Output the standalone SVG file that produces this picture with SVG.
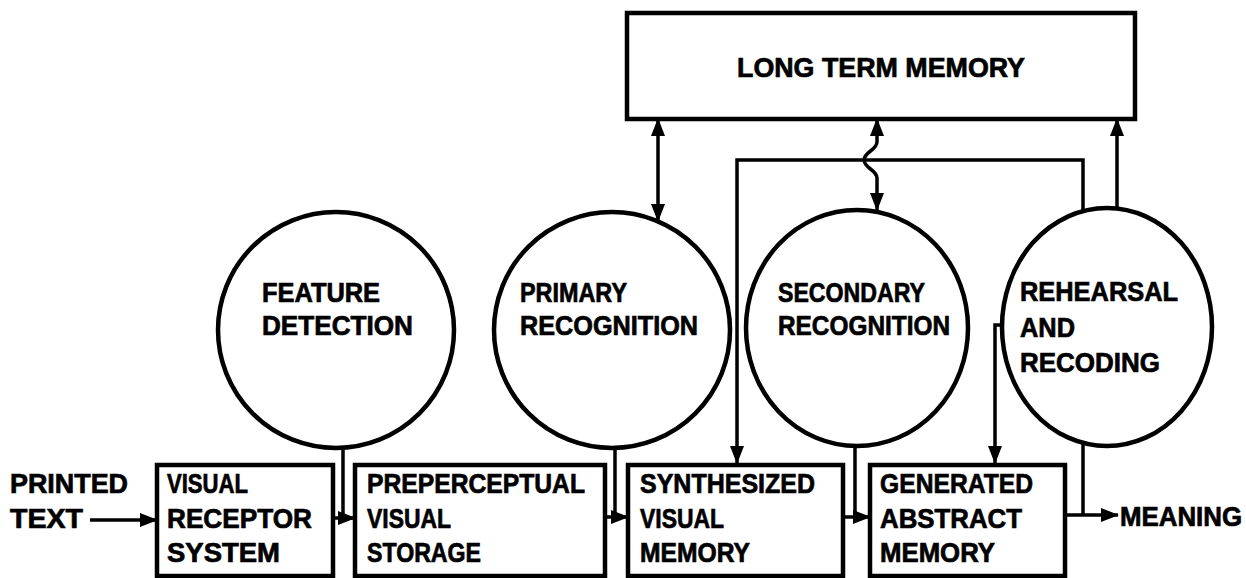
<svg xmlns="http://www.w3.org/2000/svg" width="1246" height="578" viewBox="0 0 1246 578">
<defs>
<style>
.box{fill:#fff;stroke:#000;stroke-width:4.5}
.circ{fill:#fff;stroke:#000;stroke-width:4.5}
.ln{fill:none;stroke:#000;stroke-width:3.5}
text{font-family:"Liberation Sans",Arial,Helvetica,sans-serif;font-weight:bold;font-size:27px;fill:#000;stroke:#000;stroke-width:0.7}
</style>
<marker id="ah" markerUnits="userSpaceOnUse" markerWidth="18" markerHeight="14" refX="17" refY="7" orient="auto">
<path d="M0,0 L18,7 L0,14 Z" fill="#000"/>
</marker>
<marker id="as" markerUnits="userSpaceOnUse" markerWidth="18" markerHeight="14" refX="1" refY="7" orient="auto">
<path d="M18,0 L0,7 L18,14 Z" fill="#000"/>
</marker>
</defs>
<rect width="1246" height="578" fill="#fff"/>

<g id="connectors">
<line class="ln" x1="90" y1="520" x2="157" y2="520" marker-end="url(#ah)"/>
<line class="ln" x1="333" y1="518" x2="355" y2="518" marker-end="url(#ah)"/>
<line class="ln" x1="343" y1="448" x2="343" y2="518"/>
<line class="ln" x1="605" y1="517" x2="628" y2="517" marker-end="url(#ah)"/>
<line class="ln" x1="615" y1="448" x2="615" y2="517"/>
<line class="ln" x1="843" y1="517" x2="870" y2="517" marker-end="url(#ah)"/>
<line class="ln" x1="855" y1="446" x2="855" y2="517"/>
<line class="ln" x1="1065" y1="515" x2="1118" y2="515" marker-end="url(#ah)"/>
<line class="ln" x1="1083" y1="443" x2="1083" y2="515"/>
<line class="ln" x1="658" y1="119" x2="658" y2="221" marker-start="url(#as)" marker-end="url(#ah)"/>
<path class="ln" d="M877,119 L877,142 C877,150 864,152 864,160 C864,168 877,170 877,178 L877,210" marker-start="url(#as)" marker-end="url(#ah)"/>
<path class="ln" d="M1083,212 L1083,160 L737,160 L737,463" marker-end="url(#ah)"/>
<path class="ln" d="M1003,325 L995,325 L995,463" marker-end="url(#ah)"/>
<line class="ln" x1="1117" y1="208" x2="1117" y2="119" marker-end="url(#ah)"/>
</g>

<g id="ltm">
<rect class="box" x="627" y="13" width="508" height="106"/>
<text x="737" y="77" textLength="288" lengthAdjust="spacingAndGlyphs">LONG TERM MEMORY</text>
</g>

<g id="feature-detection">
<circle class="circ" cx="336" cy="330" r="118"/>
<text x="262" y="302" textLength="118" lengthAdjust="spacingAndGlyphs">FEATURE</text>
<text x="262" y="335" textLength="151" lengthAdjust="spacingAndGlyphs">DETECTION</text>
</g>

<g id="primary-recognition">
<circle class="circ" cx="612" cy="330" r="118"/>
<text x="520" y="302" textLength="107" lengthAdjust="spacingAndGlyphs">PRIMARY</text>
<text x="520" y="335" textLength="178" lengthAdjust="spacingAndGlyphs">RECOGNITION</text>
</g>

<g id="secondary-recognition">
<ellipse class="circ" cx="857" cy="328" rx="111" ry="118"/>
<text x="778" y="302" textLength="147" lengthAdjust="spacingAndGlyphs">SECONDARY</text>
<text x="778" y="335" textLength="172" lengthAdjust="spacingAndGlyphs">RECOGNITION</text>
</g>

<g id="rehearsal-recoding">
<ellipse class="circ" cx="1107" cy="327" rx="105" ry="119"/>
<text x="1020" y="301" textLength="158" lengthAdjust="spacingAndGlyphs">REHEARSAL</text>
<text x="1020" y="337" textLength="55" lengthAdjust="spacingAndGlyphs">AND</text>
<text x="1020" y="372" textLength="140" lengthAdjust="spacingAndGlyphs">RECODING</text>
</g>

<g id="printed-text">
<text x="10" y="493" textLength="118" lengthAdjust="spacingAndGlyphs">PRINTED</text>
<text x="10" y="528" textLength="73" lengthAdjust="spacingAndGlyphs">TEXT</text>
</g>

<g id="visual-receptor-system">
<rect class="box" x="157" y="465" width="176" height="111"/>
<text x="167" y="493" textLength="81" lengthAdjust="spacingAndGlyphs">VISUAL</text>
<text x="167" y="528" textLength="145" lengthAdjust="spacingAndGlyphs">RECEPTOR</text>
<text x="167" y="562" textLength="113" lengthAdjust="spacingAndGlyphs">SYSTEM</text>
</g>

<g id="preperceptual-visual-storage">
<rect class="box" x="355" y="465" width="250" height="111"/>
<text x="367" y="493" textLength="218" lengthAdjust="spacingAndGlyphs">PREPERCEPTUAL</text>
<text x="367" y="528" textLength="84" lengthAdjust="spacingAndGlyphs">VISUAL</text>
<text x="367" y="562" textLength="114" lengthAdjust="spacingAndGlyphs">STORAGE</text>
</g>

<g id="synthesized-visual-memory">
<rect class="box" x="628" y="465" width="215" height="111"/>
<text x="640" y="493" textLength="175" lengthAdjust="spacingAndGlyphs">SYNTHESIZED</text>
<text x="640" y="528" textLength="84" lengthAdjust="spacingAndGlyphs">VISUAL</text>
<text x="640" y="562" textLength="110" lengthAdjust="spacingAndGlyphs">MEMORY</text>
</g>

<g id="generated-abstract-memory">
<rect class="box" x="870" y="465" width="195" height="111"/>
<text x="880" y="493" textLength="153" lengthAdjust="spacingAndGlyphs">GENERATED</text>
<text x="880" y="528" textLength="142" lengthAdjust="spacingAndGlyphs">ABSTRACT</text>
<text x="880" y="562" textLength="115" lengthAdjust="spacingAndGlyphs">MEMORY</text>
</g>

<g id="meaning">
<text x="1120" y="526" textLength="122" lengthAdjust="spacingAndGlyphs">MEANING</text>
</g>
</svg>
